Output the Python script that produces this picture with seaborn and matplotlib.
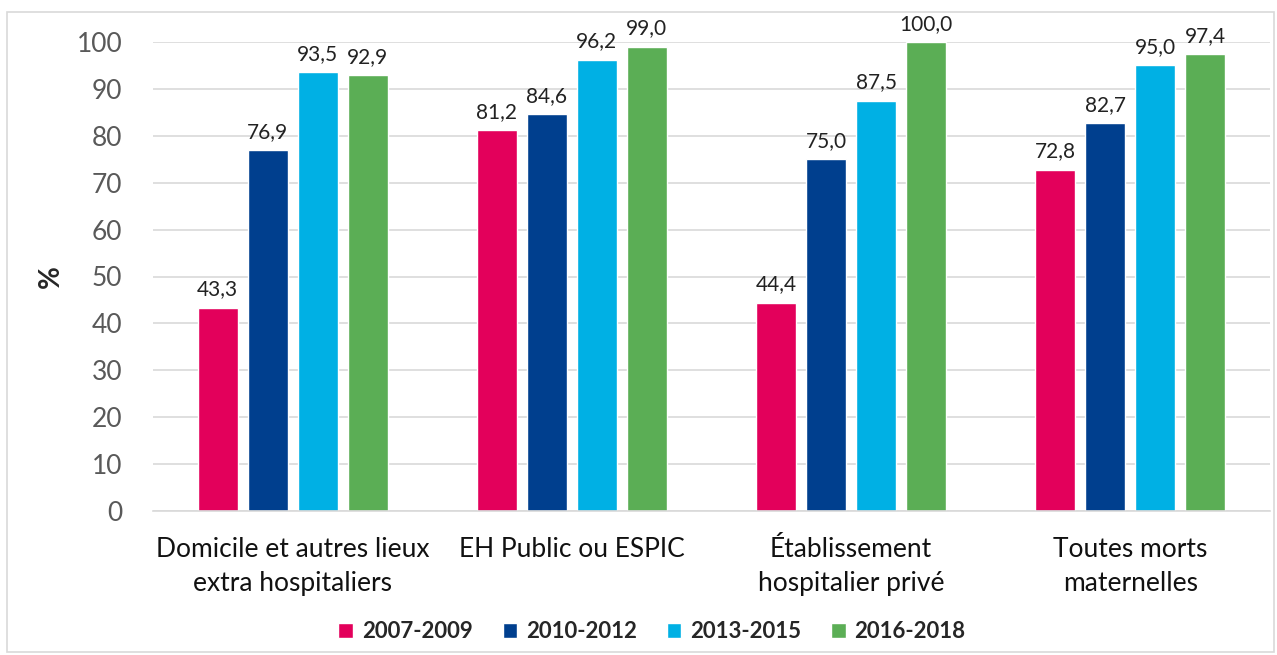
import pandas as pd
import matplotlib.pyplot as plt
import seaborn as sns
from matplotlib.patches import Rectangle

# Data
categories = ["Domicile et autres lieux\nextra hospitaliers", "EH Public ou ESPIC",
              "Établissement\nhospitalier privé", "Toutes morts\nmaternelles"]
periods = ["2007-2009", "2010-2012", "2013-2015", "2016-2018"]
v_2007_2009 = [43.3, 81.2, 44.4, 72.8]
v_2010_2012 = [76.9, 84.6, 75.0, 82.7]
v_2013_2015 = [93.5, 96.2, 87.5, 95.0]
v_2016_2018 = [92.9, 99.0, 100.0, 97.4]
colors = ["#E3005B", "#003F8E", "#00B0E4", "#5BAE55"]

series = [v_2007_2009, v_2010_2012, v_2013_2015, v_2016_2018]
rows = []
for p, vals in zip(periods, series):
    for c, v in zip(categories, vals):
        rows.append({"cat": c, "period": p, "value": v})
df = pd.DataFrame(rows)

sns.set_theme(style="white")
plt.rcParams['font.family'] = ['Lato', 'DejaVu Sans']

fig = plt.figure(figsize=(12.77, 6.55), dpi=100)
ax = fig.add_axes([153 / 1277, 1 - 511 / 655, (1270 - 153) / 1277, (511 - 42) / 655])

sns.barplot(data=df, x="cat", y="value", hue="period", palette=colors,
            width=0.716, gap=0.2, ax=ax, saturation=1, errorbar=None)

for cont in ax.containers:
    ax.bar_label(cont, labels=[f"{b.get_height():.1f}".replace(".", ",") for b in cont],
                 padding=6, fontsize=15, color="#222222")

ax.set_ylim(0, 100)
ax.set_xlim(-0.5, 3.5)
ax.set_yticks(range(0, 101, 10))
ax.yaxis.grid(True, color="#D9D9D9", linewidth=1.2)
ax.set_axisbelow(True)
for s in ["left", "right", "top"]:
    ax.spines[s].set_visible(False)
ax.spines["bottom"].set_color("#D9D9D9")
ax.spines["bottom"].set_linewidth(1.2)
ax.tick_params(axis="y", labelsize=19, labelcolor="#595959", length=0, pad=22)
ax.tick_params(axis="x", labelsize=19, labelcolor="#111111", length=0, pad=19)
for t in ax.get_xticklabels():
    t.set_linespacing(1.45)
ax.set_xlabel("")
ax.set_ylabel("%", fontsize=20, fontweight="bold", labelpad=9)

leg = fig.legend(*ax.get_legend_handles_labels(), loc="center",
                 bbox_to_anchor=(652 / 1277, 1 - 632 / 655), ncol=4, frameon=False,
                 handlelength=0.65, handleheight=0.65, handletextpad=0.4, columnspacing=1.35,
                 prop={"size": 16, "weight": "bold"})
ax.get_legend().remove()

# outer frame
fig.patches.append(Rectangle((7 / 1277, 0.005), 1 - 7 / 1277 - 0.002, 1 - 12 / 655 - 0.005,
                             transform=fig.transFigure, fill=False,
                             edgecolor="#D9D9D9", linewidth=1.2))

fig.savefig("out.png", dpi=100)
